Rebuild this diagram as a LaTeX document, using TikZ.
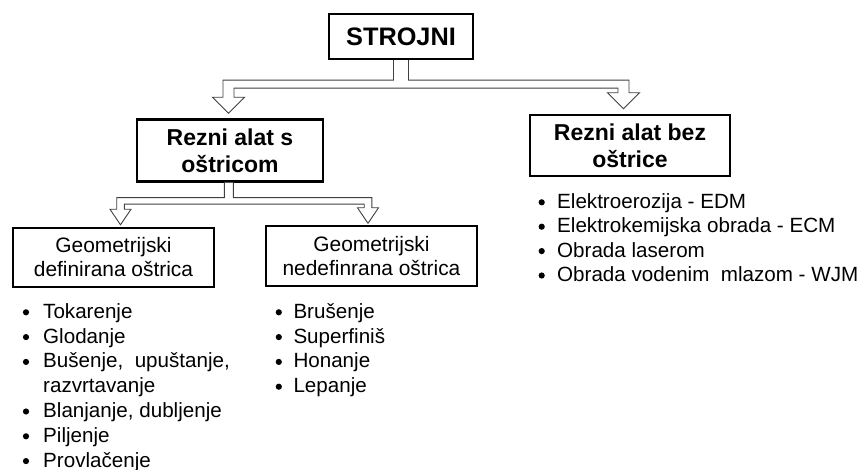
\documentclass[tikz,border=0pt]{standalone}
\usepackage{fontspec}
\setmainfont{Liberation Sans}
\usetikzlibrary{calc}

\tikzset{
  box/.style={draw, line width=2.4pt, inner sep=0pt, align=center},
  fork/.style={draw=black!75, line width=0.9pt, fill=white, line join=miter},
  item/.style={anchor=base west, inner sep=0pt, font=\fontsize{20.6}{24}\selectfont},
  dot/.style={radius=3.1pt},
}

% hollow T shaped arrow: parent, left tip, right tip, stem half width,
% bar drop, bar thickness, shaft half width, head half width, head height
\newcommand{\hollowfork}[9]{%
  \draw[fork] let \p1=(#1), \p2=(#2), \p3=(#3) in
    (\x1-#4pt,\y1) -- (\x1-#4pt,\y1-#5pt) -- (\x2-#7pt,\y1-#5pt)
    -- (\x2-#7pt,\y2+#9pt) -- (\x2-#8pt,\y2+#9pt) -- (\p2)
    -- (\x2+#8pt,\y2+#9pt) -- (\x2+#7pt,\y2+#9pt) -- (\x2+#7pt,\y1-#5pt-#6pt)
    -- (\x3-#7pt,\y1-#5pt-#6pt) -- (\x3-#7pt,\y3+#9pt) -- (\x3-#8pt,\y3+#9pt)
    -- (\p3) -- (\x3+#8pt,\y3+#9pt) -- (\x3+#7pt,\y3+#9pt)
    -- (\x3+#7pt,\y1-#5pt) -- (\x1+#4pt,\y1-#5pt) -- (\x1+#4pt,\y1);
}

\begin{document}
\begin{tikzpicture}[x=1pt,y=-1pt]
\path[fill=white,use as bounding box] (0,0) rectangle (863,470);

% boxes
\node[box, minimum width=144pt, minimum height=45pt, font=\fontsize{25.3}{30}\selectfont\bfseries] (strojni) at (401,36.5) {STROJNI};
\node[box, minimum width=186pt, minimum height=62pt, font=\fontsize{23}{27}\selectfont\bfseries] (sostricom) at (230,150.5) {Rezni alat s\\oštricom};
\node[box, minimum width=200pt, minimum height=61pt, font=\fontsize{23}{27}\selectfont\bfseries] (bezostrice) at (630,145.5) {Rezni alat bez\\oštrice};
\node[box, minimum width=201pt, minimum height=59pt, font=\fontsize{20.9}{24}\selectfont] (definirana) at (113.5,257.5) {Geometrijski\\definirana oštrica};
\node[box, minimum width=211pt, minimum height=60pt, font=\fontsize{20.9}{24}\selectfont] (nedefinirana) at (371.5,256) {Geometrijski\\nedefinrana oštrica};

% arrows
\coordinate (tipS) at ($(sostricom.north)+(-1.5,-5)$);
\coordinate (tipB) at ($(bezostrice.north)+(-6.5,-5)$);
\coordinate (stemS) at ($(sostricom.south)+(-1.2,0)$);
\coordinate (tipD) at ($(definirana.north)+(7,-2)$);
\coordinate (tipN) at ($(nedefinirana.north)+(-3.5,-1.5)$);
\hollowfork{strojni.south}{tipS}{tipB}{7.5}{20}{8}{5.5}{16}{16}
\hollowfork{stemS}{tipD}{tipN}{4.5}{15}{6.5}{3.8}{10.5}{15.5}

% lists
\foreach \y/\t [count=\i] in {318.3/Tokarenje, 343.1/Glodanje, 367.9/{Bušenje,\ \ upuštanje,}, 417.5/{Blanjanje, dubljenje}, 442.3/Piljenje, 467.1/Provlačenje}{
  \fill (26,\y-6) circle[dot];
  \node[item] (sa-\i) at (43,\y) {\t};
}
\node[item] (sa-r) at (43,392.7) {razvrtavanje};

\foreach \y/\t [count=\i] in {318.3/Brušenje, 343.1/Superfiniš, 367.9/Honanje, 392.7/Lepanje}{
  \fill (278.8,\y-6) circle[dot];
  \node[item] (ne-\i) at (293.3,\y) {\t};
}

\foreach \y/\t [count=\i] in {208.3/Elektroerozija - EDM, 232.7/Elektrokemijska obrada - ECM, 257.1/Obrada laserom, 281.5/Obrada vodenim\ \ mlazom - WJM}{
  \fill (541.7,\y-6) circle[dot];
  \node[item] (bz-\i) at (557,\y) {\t};
}
\end{tikzpicture}
\end{document}
